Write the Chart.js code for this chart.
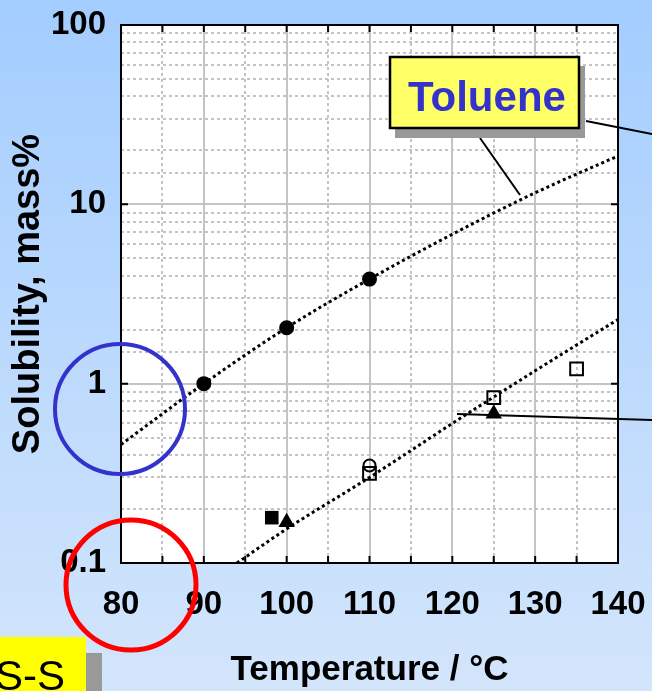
<!DOCTYPE html>
<html><head><meta charset="utf-8">
<script src="https://cdn.jsdelivr.net/npm/chart.js@4"></script>
<style>html,body{margin:0;padding:0;background:#bcdcff;overflow:hidden}#wrap{width:652px;height:691px;position:relative}</style>
</head><body><div id="wrap"><canvas id="c" width="652" height="691"></canvas></div>
<script>
const FONT = '"Liberation Sans", Arial, Helvetica, sans-serif';
const xTickValues = [80, 90, 100, 110, 120, 130, 140];
const yTickLabels = [0.1, 1, 10, 100];
// Toluene fit curve and measured points
const tolueneFitT = [80, 90, 100, 110, 120, 130, 140];
const tolueneFitS = [0.458, 1.0, 2.05, 3.83, 6.81, 11.6, 18.6];
const tolueneT = [90, 100, 110];
const tolueneS = [1.0, 2.05, 3.83];
// lower fit curve and other measured points
const lowerFitT = [94, 100, 110, 120, 130, 140];
const lowerFitS = [0.1, 0.155, 0.30, 0.60, 1.18, 2.28];
const openSquareT = [110, 125, 135];
const openSquareS = [0.316, 0.836, 1.21];
const openCircleT = [110];
const openCircleS = [0.35];
const filledSquareT = [98.2];
const filledSquareS = [0.179];
const filledTriangleT = [100, 125];
const filledTriangleS = [0.169, 0.68];
const xTitle = 'Temperature / °C';
const yTitle = 'Solubility, mass%';
const calloutText = 'Toluene';
const cornerText = 'S-S';

const pts = (xs, ys) => xs.map((x, i) => ({x: x, y: ys[i]}));
const isDecade = v => Math.abs(Math.log10(v) - Math.round(Math.log10(v))) < 1e-6;

const bgPlugin = {
  id: 'bg',
  beforeDraw(chart) {
    const ctx = chart.ctx, ca = chart.chartArea;
    ctx.save();
    const g = ctx.createLinearGradient(0, 0, 0, chart.height);
    g.addColorStop(0, '#A3CDFF');
    g.addColorStop(1, '#D3E5FB');
    ctx.fillStyle = g;
    ctx.fillRect(0, 0, chart.width, chart.height);
    ctx.fillStyle = '#FFFFFF';
    ctx.fillRect(ca.left, ca.top, ca.right - ca.left, ca.bottom - ca.top);
    ctx.restore();
  }
};

const framePlugin = {
  id: 'frame',
  afterDatasetsDraw(chart) {
    const ctx = chart.ctx, ca = chart.chartArea;
    const xs = chart.scales.x, ys = chart.scales.y;
    ctx.save();
    ctx.strokeStyle = '#000';
    ctx.lineWidth = 2;
    ctx.setLineDash([]);
    ctx.strokeRect(ca.left, ca.top, ca.right - ca.left, ca.bottom - ca.top);
    ctx.beginPath();
    const tl = 7;
    for (let v = xs.min; v <= xs.max; v += 5) {
      const px = xs.getPixelForValue(v);
      ctx.moveTo(px, ca.bottom); ctx.lineTo(px, ca.bottom - tl);
      ctx.moveTo(px, ca.top); ctx.lineTo(px, ca.top + tl);
    }
    yTickLabels.forEach(v => {
      const py = ys.getPixelForValue(v);
      ctx.moveTo(ca.left, py); ctx.lineTo(ca.left + tl, py);
      ctx.moveTo(ca.right, py); ctx.lineTo(ca.right - tl, py);
    });
    ctx.stroke();
    ctx.restore();
  }
};

const notePlugin = {
  id: 'notes',
  afterDraw(chart) {
    const ctx = chart.ctx;
    ctx.save();
    ctx.setLineDash([]);
    // connector lines
    ctx.strokeStyle = '#000';
    ctx.lineWidth = 2;
    ctx.beginPath();
    ctx.moveTo(480, 138); ctx.lineTo(520, 195);
    ctx.moveTo(586, 121); ctx.lineTo(652, 134);
    ctx.moveTo(457, 414); ctx.lineTo(652, 420);
    ctx.stroke();
    // Toluene callout
    ctx.fillStyle = '#999999';
    ctx.fillRect(395, 66, 190, 72);
    ctx.fillStyle = '#FFFF66';
    ctx.fillRect(390, 57, 189, 71);
    ctx.strokeStyle = '#000';
    ctx.lineWidth = 2.5;
    ctx.strokeRect(390, 57, 189, 71);
    ctx.fillStyle = '#3333CC';
    ctx.font = 'bold 42px ' + FONT;
    ctx.textAlign = 'left';
    ctx.textBaseline = 'alphabetic';
    ctx.fillText(calloutText, 408, 111);
    // blue circle
    ctx.strokeStyle = '#3333CC';
    ctx.lineWidth = 4;
    ctx.beginPath(); ctx.arc(120, 409, 65, 0, Math.PI * 2); ctx.stroke();
    // red circle
    ctx.strokeStyle = '#FF0000';
    ctx.lineWidth = 5;
    ctx.beginPath(); ctx.arc(131, 585, 65, 0, Math.PI * 2); ctx.stroke();
    // S-S box (cut off at the corner)
    ctx.fillStyle = '#999999';
    ctx.fillRect(86, 653, 16, 40);
    ctx.fillStyle = '#FFFF00';
    ctx.fillRect(0, 637, 86, 56);
    ctx.fillStyle = '#000';
    ctx.font = '42px ' + FONT;
    ctx.textAlign = 'right';
    ctx.fillText(cornerText, 65, 690);
    ctx.restore();
  }
};

const fitStyle = {
  type: 'line', showLine: true, pointRadius: 0, borderColor: '#000', borderWidth: 3,
  borderDash: [3, 3], fill: false, cubicInterpolationMode: 'monotone'
};

new Chart(document.getElementById('c'), {
  type: 'scatter',
  data: {
    datasets: [
      Object.assign({label: 'Toluene fit', data: pts(tolueneFitT, tolueneFitS)}, fitStyle),
      Object.assign({label: 'Lower fit', data: pts(lowerFitT, lowerFitS)}, fitStyle),
      {label: 'Toluene', data: pts(tolueneT, tolueneS), pointStyle: 'circle', pointRadius: 7.5,
       backgroundColor: '#000', borderColor: '#000', borderWidth: 0},
      {label: 'Open circle', data: pts(openCircleT, openCircleS), pointStyle: 'circle', pointRadius: 6,
       backgroundColor: 'rgba(0,0,0,0)', borderColor: '#000', borderWidth: 2},
      {label: 'Open square', data: pts(openSquareT, openSquareS), pointStyle: 'rect', pointRadius: 9,
       backgroundColor: 'rgba(0,0,0,0)', borderColor: '#000', borderWidth: 2},
      {label: 'Filled square', data: pts(filledSquareT, filledSquareS), pointStyle: 'rect', pointRadius: 9.6,
       backgroundColor: '#000', borderColor: '#000', borderWidth: 0},
      {label: 'Filled triangle', data: pts(filledTriangleT, filledTriangleS), pointStyle: 'triangle', pointRadius: 9.5,
       backgroundColor: '#000', borderColor: '#000', borderWidth: 0}
    ]
  },
  options: {
    responsive: false,
    animation: false,
    devicePixelRatio: 1,
    layout: {padding: {top: 25, right: 34, left: 0, bottom: 0}},
    plugins: {legend: {display: false}, tooltip: {enabled: false}},
    scales: {
      x: {
        type: 'linear', min: 80, max: 140,
        afterFit: s => { s.height = 128; s.paddingLeft = 0; s.paddingRight = 0; },
        ticks: {
          stepSize: 5, autoSkip: false, maxRotation: 0, minRotation: 0, padding: 22, color: '#000',
          font: {family: FONT, size: 33, weight: 'bold'},
          callback: v => xTickValues.includes(v) ? String(v) : ''
        },
        grid: {drawTicks: false, color: '#C4C4C4', lineWidth: 2},
        border: {display: false, dash: c => (c.tick && c.tick.value % 10 === 0) ? [] : [3, 3]},
        title: {display: true, text: xTitle, color: '#000', font: {family: FONT, size: 35, weight: 'bold'},
                padding: {top: 0, bottom: 0}}
      },
      y: {
        type: 'logarithmic', min: 0.1, max: 100,
        afterFit: s => { s.width = 121; s.paddingTop = 0; s.paddingBottom = 0; },
        ticks: {
          autoSkip: false, padding: 15, color: '#000',
          font: {family: FONT, size: 33, weight: 'bold'},
          callback: v => {
            const m = yTickLabels.find(t => Math.abs(t - v) < 1e-6 * t);
            return m !== undefined ? String(m) : '';
          }
        },
        grid: {drawTicks: false, color: '#C4C4C4', lineWidth: 2},
        border: {display: false, dash: c => (c.tick && isDecade(c.tick.value)) ? [] : [3, 3]},
        title: {display: true, text: yTitle, color: '#000', font: {family: FONT, size: 38, weight: 'bold'},
                padding: {top: 6, bottom: 0}}
      }
    }
  },
  plugins: [bgPlugin, framePlugin, notePlugin]
});
</script>
</body></html>
